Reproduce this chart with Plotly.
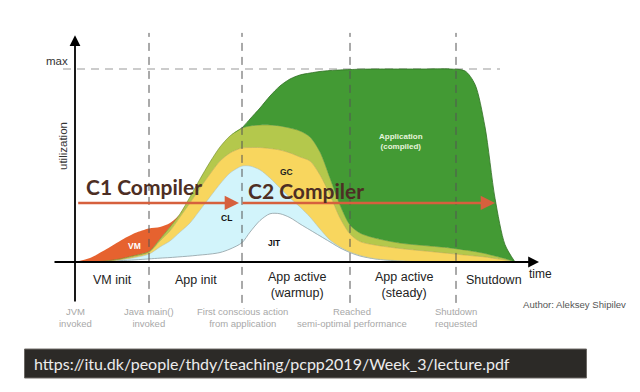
import plotly.graph_objects as go

# ---------------- data (time units, utilization in % of max) ----------------
T = [0, 15, 30, 45, 60, 74, 85, 95, 105, 115, 125, 135, 145, 155, 167, 175, 185, 195, 205,
     215, 225, 235, 245, 255, 265, 275, 285, 300, 325, 350, 375, 390, 400, 410, 420, 430, 440]

# cumulative top boundary of each stacked layer
JIT_TOP = [0, 0.1, 0.4, 0.7, 1.1, 1.6, 2.0, 2.3, 2.7, 3.1, 3.6, 4.1, 4.9, 6.7, 10.0, 15.5, 21.5, 25.0, 25.0,
           23.0, 19.7, 16.6, 13.5, 10.4, 7.3, 4.9, 3.1, 1.6, 0.5, 0, 0, 0, 0, 0, 0, 0, 0]
CL_TOP = [0, 0, 0.3, 1.0, 2.3, 4.1, 7.8, 10.9, 15.5, 20.2, 26.9, 33.7, 40.4, 46.1, 49.7, 49.7, 47.7, 43.5, 38.3,
          33.2, 28.5, 23.3, 17.1, 11.4, 7.8, 5.2, 3.4, 1.7, 0.6, 0, 0, 0, 0, 0, 0, 0, 0]
GC_TOP = [0, 0, 0.4, 1.3, 2.8, 4.9, 10.9, 16.1, 23.3, 30.6, 38.3, 45.6, 52.3, 56.5, 59.1, 59.3, 59.3, 58.8, 58.0,
          56.5, 54.4, 52.3, 45.1, 34.7, 22.8, 14.5, 10.6, 8.8, 7.0, 5.7, 4.4, 3.6, 3.1, 2.6, 1.8, 1.0, 0]
C2_TOP = [0, 0, 0.5, 1.6, 3.4, 5.4, 11.9, 18.1, 24.9, 33.7, 43.0, 51.8, 59.6, 65.3, 69.4, 70.5, 71.0, 71.0, 70.5,
          69.4, 67.9, 64.8, 57.0, 43.5, 29.5, 19.2, 15.0, 12.4, 9.8, 8.5, 7.3, 6.2, 5.4, 4.4, 3.1, 1.8, 0]
VM_TOP = [0, 2.1, 6.2, 10.9, 15.0, 17.4, 18.1, 20.2, 24.9, 33.7, 43.0, 51.8, 59.6, 65.3, 69.4, 70.5, 71.0, 71.0, 70.5,
          69.4, 67.9, 64.8, 57.0, 43.5, 29.5, 19.2, 15.0, 12.4, 9.8, 8.5, 7.3, 6.2, 5.4, 4.4, 3.1, 1.8, 0]
APP_TOP = [0, 2.1, 6.2, 10.9, 15.0, 17.4, 18.1, 20.2, 24.9, 33.7, 43.0, 51.8, 59.6, 65.3, 69.4, 74.1, 79.8, 86.0, 91.2,
           94.8, 96.9, 97.9, 98.7, 99.2, 99.5, 99.7, 99.9, 100, 100, 100, 100, 99.0, 92, 70, 33, 9, 0]

EVENT_TIMES = [0, 74, 167, 275, 381]
EVENT_LABELS = ["JVM<br>invoked", "Java main()<br>invoked", "First conscious action<br>from application",
                "Reached<br>semi-optimal performance", "Shutdown<br>requested"]
PHASE_LABELS = ["VM init", "App init", "App active<br>(warmup)", "App active<br>(steady)", "Shutdown"]
PHASE_TIMES = [37, 121, 222, 329, 419]
MAX_LEVEL = 100
C_LEVEL = 30.6

# ---------------- figure ----------------
fig = go.Figure()
layers = [
    ("JIT", JIT_TOP, "none", "rgba(0,0,0,0)", "#8e9ea3", 0.8),
    ("CL", CL_TOP, "tonexty", "#d2f4fb", "#9fb8bb", 0.5),
    ("GC", GC_TOP, "tonexty", "#f8d65e", "#b8a040", 0.5),
    ("C2", C2_TOP, "tonexty", "#b4c84c", "#6f8a2c", 0.6),
    ("VM", VM_TOP, "tonexty", "#e6622f", "#e6622f", 0),
    ("App", APP_TOP, "tonexty", "#439a34", "#2e6e22", 0),
]
for name, ys, fill, fc, lc, lw in layers:
    fig.add_trace(go.Scatter(x=T, y=ys, mode="lines", fill=fill, fillcolor=fc,
                             line=dict(color=lc, width=lw, shape="spline", smoothing=0.8),
                             hoverinfo="skip", name=name))
fig.add_trace(go.Scatter(x=T[14:], y=APP_TOP[14:], mode="lines",
                         line=dict(color="#2e6e22", width=0.8, shape="spline", smoothing=0.8),
                         hoverinfo="skip"))

shapes = []
# max dashed line
shapes.append(dict(type="line", x0=-12, x1=425, y0=MAX_LEVEL, y1=MAX_LEVEL,
                   line=dict(color="#9a9a9a", width=1.2, dash="8px,6px"), layer="below"))
# event dashed verticals
for t in EVENT_TIMES[1:]:
    shapes.append(dict(type="line", x0=t, x1=t, y0=-21.2, y1=118.7,
                       line=dict(color="#555555", width=1, dash="8px,6px")))
# banner
shapes.append(dict(type="rect", x0=-50.5, x1=511.5, y0=-60.1, y1=-45.1,
                   fillcolor="#2c2a27", line=dict(color="#6b6864", width=1)))

ann = []
def arrow(x0, y0, x1, y1, color, width, size=1.0):
    ann.append(dict(x=x1, y=y1, ax=x0, ay=y0, xref="x", yref="y", axref="x", ayref="y",
                    text="", showarrow=True, arrowhead=2, arrowsize=size, arrowwidth=width,
                    arrowcolor=color, standoff=0, startstandoff=0))

# axes
arrow(0, -21.2, 0, 117.5, "#000000", 1.8, 1.2)
arrow(-22, 0, 464, 0, "#000000", 1.8, 1.2)
# compiler arrows
arrow(1.7, C_LEVEL, 164, C_LEVEL, "#d6603d", 2.6, 1.1)
arrow(166, C_LEVEL, 420, C_LEVEL, "#d6603d", 2.6, 1.1)

def text(x, y, s, size, color, family="Liberation Sans", xanchor="center", angle=0):
    ann.append(dict(x=x, y=y, xref="x", yref="y", text=s, showarrow=False, xanchor=xanchor,
                    yanchor="middle", textangle=angle,
                    font=dict(family=family, size=size, color=color)))

text(-5, 104.1, "max", 11.5, "#333333", xanchor="right")
text(-12, 60.1, "utilization", 11.5, "#333333", angle=-90)
text(452, -6.2, "time", 12, "#222222", xanchor="left")
for t, s in zip(PHASE_TIMES, PHASE_LABELS):
    y = -9.3 if "<br>" not in s else -12.0
    text(t, y, s, 12.5, "#222222")
for t, s in zip(EVENT_TIMES, EVENT_LABELS):
    tt = t + 2 if t == 275 else t
    text(tt, -28.5, s, 9.5, "#a8a8a8")
text(446, -21.8, "Author: Aleksey Shipilev", 9.6, "#555555", xanchor="left")

text(69, 38.9, "<b>C1 Compiler</b>", 21, "#4d2e24", family="Lato")
text(231, 37.3, "<b>C2 Compiler</b>", 21, "#4d2e24", family="Lato")

text(59, 8.3, "<b>VM</b>", 8.5, "#ffffff")
text(151.5, 22.8, "<b>CL</b>", 8.5, "#111111")
text(211.5, 46.6, "<b>GC</b>", 8.5, "#222222")
text(199, 9.8, "<b>JIT</b>", 8.5, "#111111")
text(326, 62.2, "<b>Application<br>(compiled)</b>", 8, "#e6f4dc")

text(-43, -52.4, "https://itu.dk/people/thdy/teaching/pcpp2019/Week_3/lecture.pdf", 16, "#ececec",
     family="Lato", xanchor="left")

# the page body has an 8px margin, so the figure is 632x384 and its ranges start 8px in
fig.update_layout(
    width=632, height=384, margin=dict(l=0, r=0, t=0, b=0),
    paper_bgcolor="#ffffff", plot_bgcolor="#ffffff", showlegend=False,
    xaxis=dict(range=[-67, 565], visible=False, fixedrange=True),
    yaxis=dict(range=[-67.36, 131.61], visible=False, fixedrange=True),
    shapes=shapes, annotations=ann,
)
fig.write_html("out.html")
